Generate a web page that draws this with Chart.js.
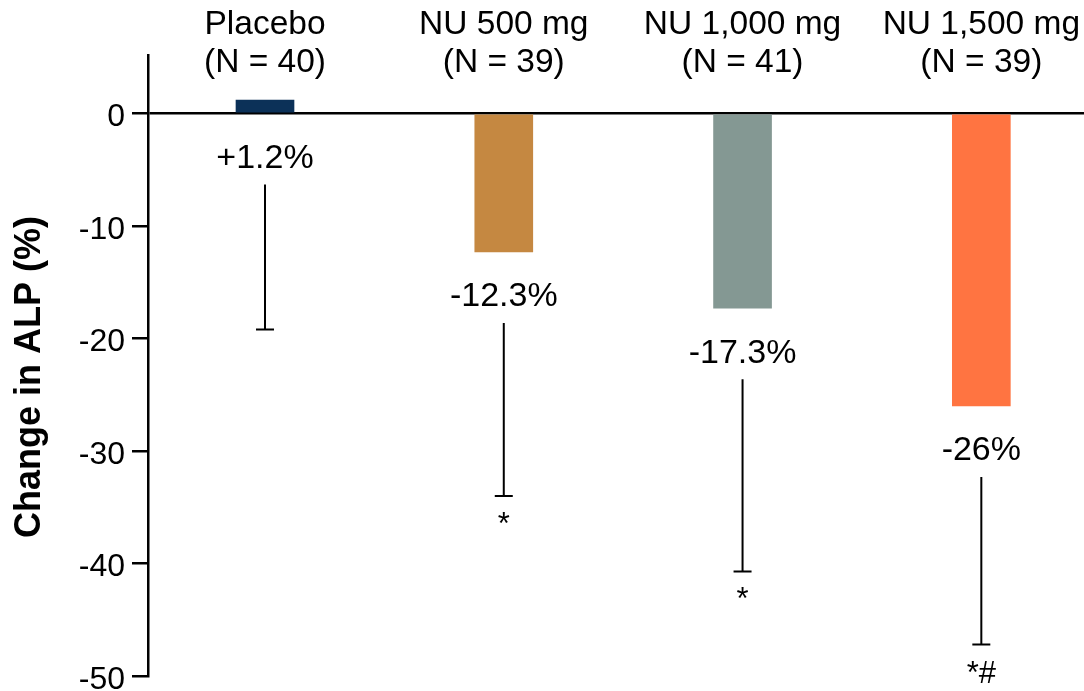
<!DOCTYPE html>
<html>
<head>
<meta charset="utf-8">
<script src="https://cdn.jsdelivr.net/npm/chart.js@4/dist/chart.umd.min.js"></script>
<style>
  html, body { margin: 0; padding: 0; background: #ffffff; }
  #wrap { width: 1084px; height: 691px; }
</style>
</head>
<body>
<div id="wrap"><canvas id="c" width="1084" height="691"></canvas></div>
<script>
// ---- data ----
const categories = ['Placebo', 'NU 500 mg', 'NU 1,000 mg', 'NU 1,500 mg'];
const groupSizes = ['(N = 40)', '(N = 39)', '(N = 41)', '(N = 39)'];
const changeValues = [1.2, -12.3, -17.3, -26];
const valueLabels = ['+1.2%', '-12.3%', '-17.3%', '-26%'];
const errorLowValues = [-19.2, -34.0, -40.7, -47.2];
const significance = ['', '*', '*', '*#'];
const yTickValues = [0, -10, -20, -30, -40, -50];
const yAxisTitle = 'Change in ALP (%)';

const barColors = ['#0c3158', '#c58841', '#849893', '#ff7441'];
const FONT = '"Liberation Sans", Arial, Helvetica, sans-serif';

const annotate = {
  id: 'annotate',
  afterDatasetsDraw(chart) {
    const ctx = chart.ctx;
    const xs = chart.scales.x, ys = chart.scales.y;
    ctx.save();
    ctx.fillStyle = '#000';
    ctx.strokeStyle = '#000';
    ctx.lineWidth = 2;
    // category labels on top
    ctx.font = '33.5px ' + FONT;
    ctx.textAlign = 'center';
    ctx.textBaseline = 'alphabetic';
    categories.forEach((c, i) => {
      const x = xs.getPixelForValue(i);
      ctx.fillText(c, x, 34);
      ctx.fillText(groupSizes[i], x, 72);
    });
    // value labels, error bars, significance marks
    changeValues.forEach((v, i) => {
      const x = xs.getPixelForValue(i);
      const yEnd = ys.getPixelForValue(Math.min(v, 0));
      ctx.font = '34px ' + FONT;
      ctx.textBaseline = 'middle';
      ctx.fillText(valueLabels[i], x, yEnd + 45);
      const yLow = ys.getPixelForValue(errorLowValues[i]);
      ctx.beginPath();
      ctx.moveTo(x, yEnd + 71);
      ctx.lineTo(x, yLow);
      ctx.moveTo(x - 9, yLow);
      ctx.lineTo(x + 9, yLow);
      ctx.stroke();
      if (significance[i]) {
        ctx.textBaseline = 'alphabetic';
        ctx.font = '31px ' + FONT;
        ctx.fillText(significance[i], x, yLow + 38);
      }
    });
    // y axis title
    ctx.save();
    ctx.translate(30, 377);
    ctx.rotate(-Math.PI / 2);
    ctx.font = 'bold 36px ' + FONT;
    ctx.textAlign = 'center';
    ctx.textBaseline = 'middle';
    ctx.fillText(yAxisTitle, 0, 0);
    ctx.restore();
    ctx.restore();
  }
};

new Chart(document.getElementById('c'), {
  type: 'bar',
  data: {
    datasets: [{
      data: changeValues.map((v, i) => ({ x: i, y: v })),
      backgroundColor: barColors,
      borderWidth: 0,
      barThickness: 58
    }]
  },
  options: {
    responsive: false,
    animation: false,
    events: [],
    layout: { padding: { top: 55, bottom: 15, left: 0, right: 0 } },
    plugins: { legend: { display: false }, tooltip: { enabled: false } },
    scales: {
      x: {
        type: 'linear',
        min: -0.49,
        max: 3.43,
        offset: false,
        display: false
      },
      y: {
        min: -50,
        max: 5.2,
        z: 1,
        afterFit(scale) {
          scale.width = 148;
          scale.paddingTop = 0;
          scale.paddingBottom = 0;
        },
        afterBuildTicks(scale) {
          scale.ticks = yTickValues.slice().reverse().map(v => ({ value: v }));
        },
        border: { display: true, color: '#000', width: 2.5 },
        grid: {
          drawOnChartArea: true,
          color: c => (c.tick && c.tick.value === 0) ? '#000' : 'rgba(0,0,0,0)',
          lineWidth: 2.5,
          tickColor: '#000',
          tickLength: 16,
          tickWidth: 2.5
        },
        ticks: {
          color: '#000',
          padding: 7,
          labelOffset: 4,
          font: { family: FONT, size: 32 },
          callback: v => String(v)
        }
      }
    }
  },
  plugins: [annotate]
});
</script>
</body>
</html>
